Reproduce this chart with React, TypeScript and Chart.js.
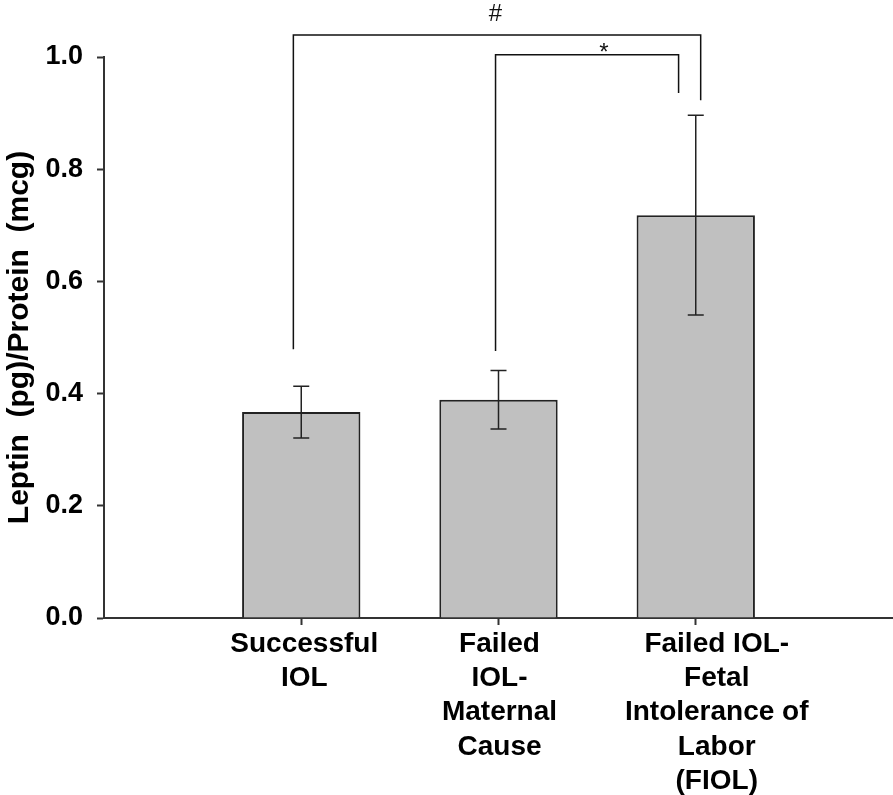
import React, { useEffect, useRef } from 'react';
import { Chart, registerables } from 'chart.js';

Chart.register(...registerables);

// ---- data ----
const categories: string[][] = [
  ['Successful', 'IOL'],
  ['Failed', 'IOL-', 'Maternal', 'Cause'],
  ['Failed IOL-', 'Fetal', 'Intolerance of', 'Labor', '(FIOL)'],
];
const positions = [1, 2, 3];
const means = [0.367, 0.389, 0.718];
const errors = [0.046, 0.052, 0.178];
const yTicks = [0, 0.2, 0.4, 0.6, 0.8, 1.0];

// significance brackets (data units)
const bracketLabels = ['#', '*'];
const bracketFrom = [0.96, 1.985];
const bracketTo = [3.025, 2.913];
const bracketTop = [1.039, 1.004];
const bracketLeftEnd = [0.479, 0.476];
const bracketRightEnd = [0.923, 0.936];
const bracketLabelX = [1.985, 2.534];
const bracketLabelY = [1.064, 0.995];

// ---- styles ----
const FONT = '"Liberation Sans", Arial, sans-serif';
const AXIS_COLOR = '#333333';
const labelShiftPx = [3, 1, 21];

const errorBarPlugin = {
  id: 'errorBars',
  afterDatasetsDraw(chart: any) {
    const { ctx, scales } = chart;
    const xs = scales.x;
    const ys = scales.y;
    ctx.save();
    ctx.strokeStyle = '#222';
    ctx.lineWidth = 1.5;
    positions.forEach((p, i) => {
      const x = xs.getPixelForValue(p);
      const yT = ys.getPixelForValue(means[i] + errors[i]);
      const yB = ys.getPixelForValue(means[i] - errors[i]);
      ctx.beginPath();
      ctx.moveTo(x, yT);
      ctx.lineTo(x, yB);
      ctx.moveTo(x - 8, yT);
      ctx.lineTo(x + 8, yT);
      ctx.moveTo(x - 8, yB);
      ctx.lineTo(x + 8, yB);
      ctx.stroke();
    });
    ctx.restore();
  },
};

const annotationPlugin = {
  id: 'annotations',
  afterDraw(chart: any) {
    const { ctx, scales, chartArea } = chart;
    const xs = scales.x;
    const ys = scales.y;
    ctx.save();
    // brackets
    ctx.strokeStyle = '#111';
    ctx.lineWidth = 1.5;
    bracketLabels.forEach((lab, i) => {
      const x1 = xs.getPixelForValue(bracketFrom[i]);
      const x2 = xs.getPixelForValue(bracketTo[i]);
      const yt = ys.getPixelForValue(bracketTop[i]);
      const yl = ys.getPixelForValue(bracketLeftEnd[i]);
      const yr = ys.getPixelForValue(bracketRightEnd[i]);
      ctx.beginPath();
      ctx.moveTo(x1, yl);
      ctx.lineTo(x1, yt);
      ctx.lineTo(x2, yt);
      ctx.lineTo(x2, yr);
      ctx.stroke();
      ctx.fillStyle = '#111';
      ctx.font = `24px ${FONT}`;
      ctx.textAlign = 'center';
      ctx.textBaseline = 'alphabetic';
      ctx.fillText(lab, xs.getPixelForValue(bracketLabelX[i]), ys.getPixelForValue(bracketLabelY[i]));
    });
    // category labels
    ctx.fillStyle = '#000';
    ctx.font = `bold 28px ${FONT}`;
    ctx.textAlign = 'center';
    ctx.textBaseline = 'alphabetic';
    categories.forEach((lines, i) => {
      const x = xs.getPixelForValue(positions[i]) + labelShiftPx[i];
      lines.forEach((ln, j) => {
        ctx.fillText(ln, x, chartArea.bottom + 34 + j * 34.2);
      });
    });
    ctx.restore();
  },
};

export default function App() {
  const ref = useRef<HTMLCanvasElement>(null);
  useEffect(() => {
    if (!ref.current) return;
    const chart = new Chart(ref.current, {
      type: 'bar',
      data: {
        datasets: [
          {
            data: positions.map((p, i) => ({ x: p, y: means[i] })),
            backgroundColor: '#c0c0c0',
            borderColor: '#222',
            borderWidth: 2,
            barPercentage: 0.6,
            categoryPercentage: 1,
          },
        ],
      },
      options: {
        responsive: false,
        animation: false,
        layout: { padding: { top: 57, right: 0, bottom: 0, left: 0 } },
        plugins: { legend: { display: false }, tooltip: { enabled: false } },
        scales: {
          x: {
            type: 'linear',
            min: 0,
            max: 4,
            offset: false,
            afterFit: (s: any) => {
              s.height = 177;
            },
            afterBuildTicks: (s: any) => {
              s.ticks = positions.map((v) => ({ value: v }));
            },
            ticks: { display: false },
            grid: {
              offset: false,
              drawOnChartArea: false,
              drawTicks: true,
              tickLength: 7,
              tickColor: AXIS_COLOR,
              tickWidth: 2,
            },
            border: { color: AXIS_COLOR, width: 2 },
          },
          y: {
            min: 0,
            max: 1,
            afterFit: (s: any) => {
              s.width = 104;
            },
            afterBuildTicks: (s: any) => {
              s.ticks = yTicks.map((v) => ({ value: v }));
            },
            ticks: {
              color: '#000',
              padding: 14,
              font: { family: FONT, size: 27, weight: 'bold' },
              callback: (v: any) => Number(v).toFixed(1),
            },
            grid: {
              drawOnChartArea: false,
              drawTicks: true,
              tickLength: 7,
              tickColor: AXIS_COLOR,
              tickWidth: 2,
            },
            border: { color: AXIS_COLOR, width: 2 },
            title: {
              display: true,
              text: 'Leptin  (pg)/Protein  (mcg)',
              color: '#000',
              padding: { top: 2, bottom: 0 },
              font: { family: FONT, size: 30, weight: 'bold' },
            },
          },
        },
      },
      plugins: [errorBarPlugin, annotationPlugin],
    } as any);
    return () => chart.destroy();
  }, []);
  return (
    <div style={{ position: 'absolute', left: 0, top: 0, width: 893, height: 795 }}>
      <canvas ref={ref} width={893} height={795} style={{ display: 'block', width: 893, height: 795 }} />
    </div>
  );
}
